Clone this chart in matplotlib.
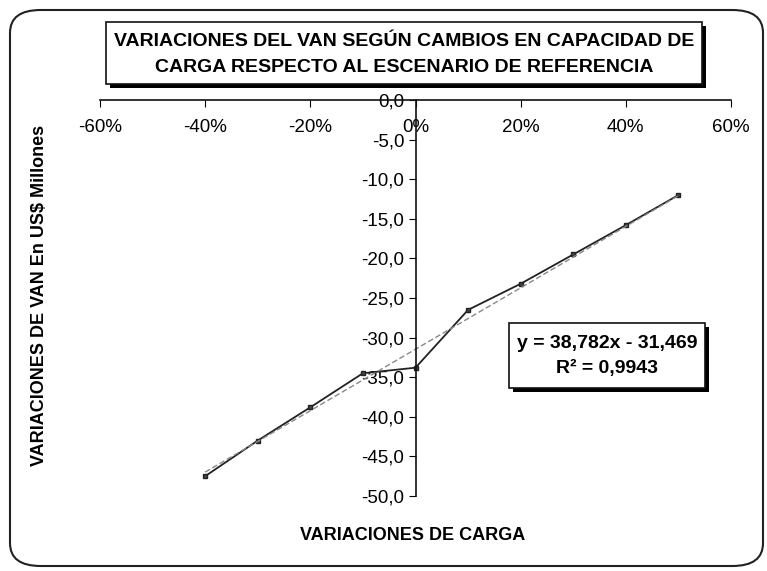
import matplotlib.pyplot as plt
import numpy as np
from matplotlib.patches import Rectangle, FancyBboxPatch
from matplotlib.ticker import FuncFormatter

plt.rcParams['font.family'] = ['Liberation Sans', 'DejaVu Sans']

# datos
variacion_carga = [-0.4, -0.3, -0.2, -0.1, 0.0, 0.1, 0.2, 0.3, 0.4, 0.5]
variacion_van = [-47.5, -43.0, -38.8, -34.5, -33.8, -26.5, -23.2, -19.5, -15.8, -12.0]
x_ticks = [-0.6, -0.4, -0.2, 0.0, 0.2, 0.4, 0.6]
y_ticks = [0, -5, -10, -15, -20, -25, -30, -35, -40, -45, -50]
# tendencia lineal tal como aparece en el gráfico
pendiente = 38.782
intercepto = -31.469
r2 = 0.9943

W, H = 767, 571
fig = plt.figure(figsize=(W / 100, H / 100), dpi=100)

def fx(px):
    return px / W

def fy(py):
    return 1 - py / H

# borde exterior redondeado
fig.patches.append(FancyBboxPatch((fx(10), fy(566)), fx(753), 556 / H,
                                  boxstyle="round,pad=0,rounding_size=0.04",
                                  transform=fig.transFigure, fill=False,
                                  edgecolor='#222222', linewidth=1.5))

ax = fig.add_axes([fx(100), fy(496), fx(731) - fx(100), fy(100) - fy(496)])

# línea de datos
ax.plot(variacion_carga, variacion_van, color='#222222', linewidth=1.3,
        marker='s', markersize=3.5, markerfacecolor='#444444', markeredgecolor='#222222')

# línea de tendencia lineal
xt = np.array([min(variacion_carga), max(variacion_carga)])
ax.plot(xt, pendiente * xt + intercepto, color='#888888', linewidth=1.0, linestyle=(0, (4, 2)))

ax.set_xlim(-0.6, 0.6)
ax.set_ylim(-50, 0)
ax.set_xticks(x_ticks)
ax.set_yticks(y_ticks)
ax.xaxis.set_major_formatter(FuncFormatter(lambda v, p: f"{v * 100:.0f}%"))
ax.yaxis.set_major_formatter(FuncFormatter(lambda v, p: f"{v:.1f}".replace('.', ',')))

ax.spines['left'].set_position(('data', 0))
ax.spines['bottom'].set_position(('data', 0))
ax.spines['top'].set_visible(False)
ax.spines['right'].set_visible(False)
for s in ('left', 'bottom'):
    ax.spines[s].set_color('#111111')
    ax.spines[s].set_linewidth(1.2)
ax.tick_params(axis='x', direction='out', length=5, labelsize=13.5, pad=9)
ax.tick_params(axis='y', direction='out', length=5, labelsize=13.5, pad=3)

# títulos de ejes
fig.text(fx(413), fy(536), 'VARIACIONES DE CARGA', ha='center', va='center',
         fontsize=13, fontweight='bold')
fig.text(fx(40), fy(295), 'VARIACIONES DE VAN En US$ Millones', ha='center', va='center',
         rotation=90, fontsize=13, fontweight='bold')

# cuadro con sombra
def caja(x0, y0, x1, y1, sombra=4):
    fig.patches.append(Rectangle((fx(x0 + sombra), fy(y1 + sombra)), fx(x1 - x0), (y1 - y0) / H,
                                 transform=fig.transFigure, facecolor='black', edgecolor='none'))
    fig.patches.append(Rectangle((fx(x0), fy(y1)), fx(x1 - x0), (y1 - y0) / H,
                                 transform=fig.transFigure, facecolor='white',
                                 edgecolor='#111111', linewidth=1.2))

caja(106, 22, 702, 84)
fig.text(fx(404), fy(42), 'VARIACIONES DEL VAN SEGÚN CAMBIOS EN CAPACIDAD DE',
         ha='center', va='center', fontsize=14, fontweight='bold')
fig.text(fx(404), fy(67), 'CARGA RESPECTO AL ESCENARIO DE REFERENCIA',
         ha='center', va='center', fontsize=14, fontweight='bold')

# cuadro de la ecuación
caja(509, 323, 705, 388)
fig.text(fx(607), fy(343), f"y = {pendiente:.3f}x - {abs(intercepto):.3f}".replace('.', ','),
         ha='center', va='center', fontsize=14, fontweight='bold')
fig.text(fx(607), fy(368), f"R² = {r2:.4f}".replace('.', ','), ha='center', va='center',
         fontsize=14, fontweight='bold')

fig.savefig('out.png', dpi=100)
